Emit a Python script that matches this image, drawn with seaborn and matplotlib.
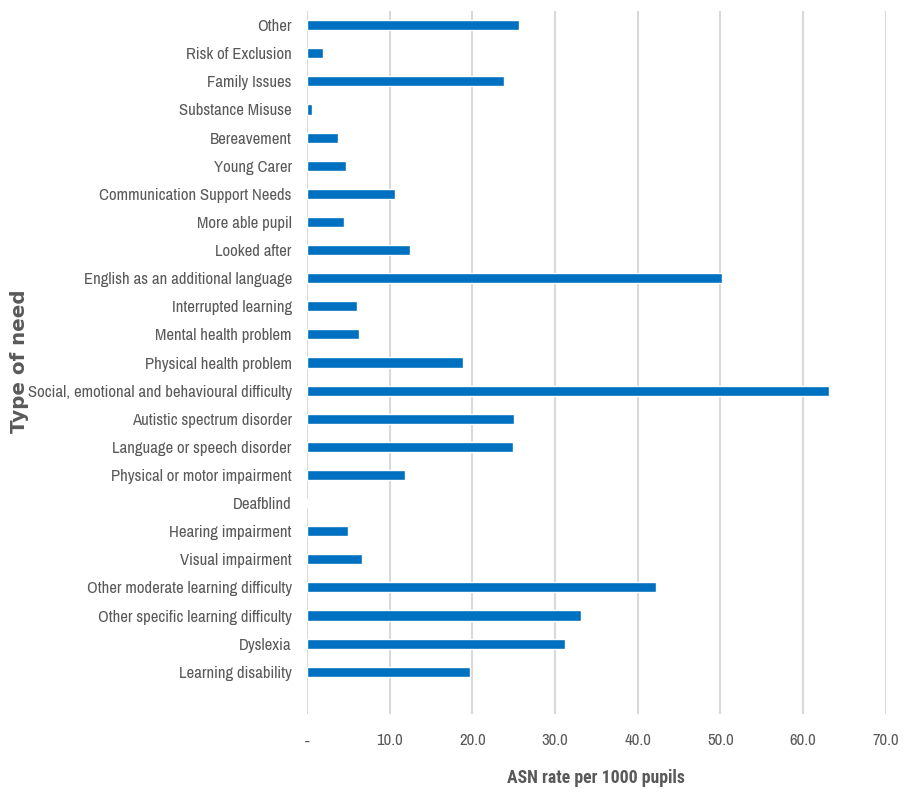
import matplotlib
matplotlib.use("Agg")
import matplotlib.pyplot as plt
from matplotlib import font_manager
import seaborn as sns
import pandas as pd

categories = [
    "Other", "Risk of Exclusion", "Family Issues", "Substance Misuse",
    "Bereavement", "Young Carer", "Communication Support Needs",
    "More able pupil", "Looked after", "English as an additional language",
    "Interrupted learning", "Mental health problem", "Physical health problem",
    "Social, emotional and behavioural difficulty", "Autistic spectrum disorder",
    "Language or speech disorder", "Physical or motor impairment", "Deafblind",
    "Hearing impairment", "Visual impairment", "Other moderate learning difficulty",
    "Other specific learning difficulty", "Dyslexia", "Learning disability",
]
rates = [
    25.7, 1.9, 23.8, 0.6,
    3.8, 4.7, 10.7,
    4.5, 12.5, 50.2,
    6.1, 6.3, 18.9,
    63.1, 25.0,
    24.9, 11.8, 0.0,
    4.9, 6.6, 42.2,
    33.2, 31.2, 19.7,
]
x_ticks = [0, 10, 20, 30, 40, 50, 60, 70]
x_tick_labels = ["-", "10.0", "20.0", "30.0", "40.0", "50.0", "60.0", "70.0"]

df = pd.DataFrame({"need": categories, "rate": rates})

sns.set_theme(style="white")
fonts = font_manager.fontManager.ttflist
installed = {f.name for f in fonts}
bold_ok = {f.name for f in fonts if f.weight in (700, "bold") and "italic" not in f.style}
candidates = ["Liberation Sans Narrow", "Arial Narrow", "Archivo Narrow",
              "Roboto Condensed", "PT Sans Narrow", "Open Sans Condensed",
              "Sofia Sans Semi Condensed", "Barlow Semi Condensed"]
narrow = next((n for n in candidates if n in installed), "DejaVu Sans")
narrow_bold = next((n for n in candidates if n in bold_ok), narrow)
plt.rcParams["font.family"] = [narrow, "DejaVu Sans"]

text_color = "#595959"
fig = plt.figure(figsize=(9.13, 7.94), dpi=100)
ax = fig.add_axes([0.3363, 0.1008, 0.970 - 0.3363, 0.9861 - 0.1008])

sns.barplot(data=df, y="need", x="rate", orient="h", color="#0070C0",
            width=0.36, saturation=1, ax=ax, zorder=3)

ax.set_xlim(0, 70)
ax.set_ylim(24.5, -0.5)
ax.set_xticks(x_ticks)
ax.set_xticklabels(x_tick_labels)
ax.grid(axis="x", color="#d9d9d9", linewidth=1.5, zorder=0)
ax.grid(axis="y", visible=False)
for s in ax.spines.values():
    s.set_visible(False)
ax.set_ylabel("")

renderer = fig.canvas.get_renderer()


def fit_size(text_obj, target_px, base):
    text_obj.set_fontsize(base)
    w = text_obj.get_window_extent(renderer).width
    return base * target_px / w


# size the category labels so the longest one spans its width in the layout
probe = fig.text(0, 0, "Social, emotional and behavioural difficulty")
label_size = fit_size(probe, 263, 12)
probe.remove()

ax.tick_params(axis="both", length=0, labelsize=label_size, labelcolor=text_color)
ax.tick_params(axis="y", pad=11)
ax.tick_params(axis="x", pad=14)

xl = ax.set_xlabel("ASN rate per 1000 pupils", fontweight="bold",
                   color=text_color, family=[narrow_bold, "DejaVu Sans"])
xl.set_fontsize(fit_size(xl, 179, 14))
xl.set_va("center")
ax.xaxis.set_label_coords(0.5, -0.091)

yl = fig.text(0.021, 1 - 361 / 794, "Type of need", rotation=0, ha="center",
              va="center", fontweight="bold", color=text_color,
              family="DejaVu Sans")
yl.set_fontsize(fit_size(yl, 143, 12))
yl.set_rotation(90)

fig.savefig("out.png", dpi=100)
